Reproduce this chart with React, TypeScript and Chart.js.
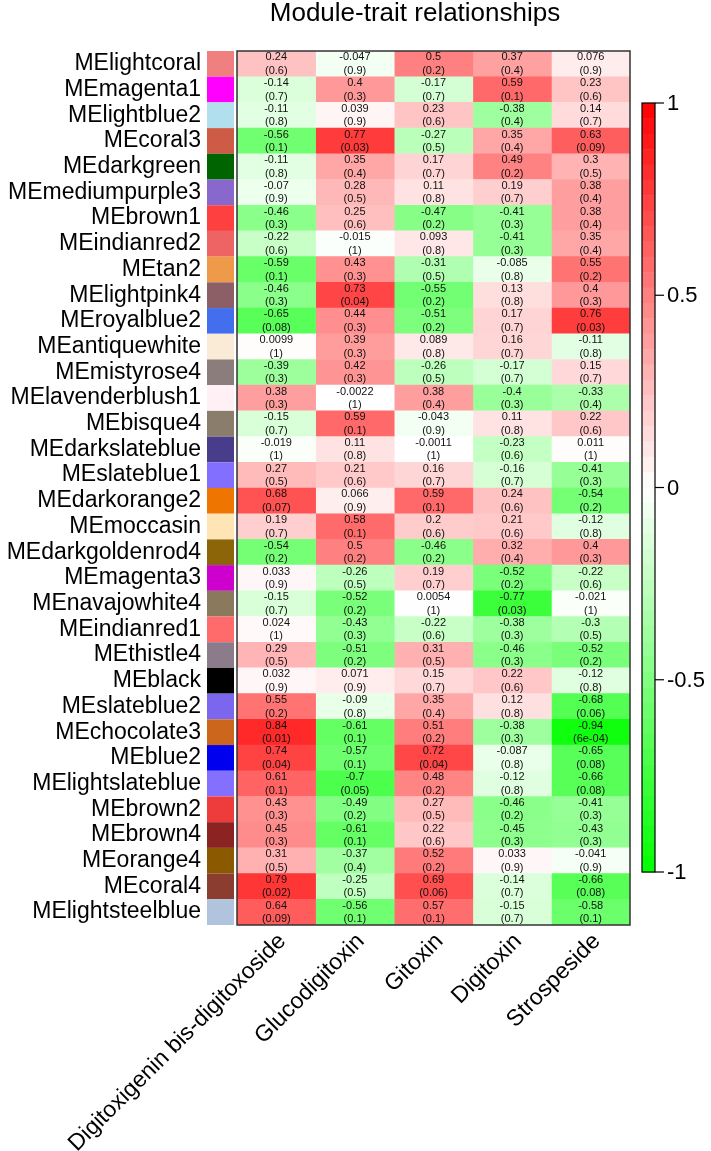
import React, { useEffect, useRef } from 'react';
import { Chart, registerables } from 'chart.js';

Chart.register(...registerables);

const title = 'Module-trait relationships';

const modules = [
  'MElightcoral', 'MEmagenta1', 'MElightblue2', 'MEcoral3', 'MEdarkgreen', 'MEmediumpurple3',
  'MEbrown1', 'MEindianred2', 'MEtan2', 'MElightpink4', 'MEroyalblue2', 'MEantiquewhite',
  'MEmistyrose4', 'MElavenderblush1', 'MEbisque4', 'MEdarkslateblue', 'MEslateblue1',
  'MEdarkorange2', 'MEmoccasin', 'MEdarkgoldenrod4', 'MEmagenta3', 'MEnavajowhite4',
  'MEindianred1', 'MEthistle4', 'MEblack', 'MEslateblue2', 'MEchocolate3', 'MEblue2',
  'MElightslateblue', 'MEbrown2', 'MEbrown4', 'MEorange4', 'MEcoral4', 'MElightsteelblue',
];

const moduleColors = [
  '#F08080', '#FF00FF', '#B2DFEE', '#CD5B45', '#006400', '#8968CD',
  '#FF4040', '#EE6363', '#EE9A49', '#8B5F65', '#436EEE', '#FAEBD7',
  '#8B7D7B', '#FFF0F5', '#8B7D6B', '#483D8B', '#836FFF',
  '#EE7600', '#FFE4B5', '#8B6508', '#CD00CD', '#8B795E',
  '#FF6A6A', '#8B7B8B', '#000000', '#7A67EE', '#CD661D', '#0000EE',
  '#8470FF', '#EE3B3B', '#8B2323', '#8B5A00', '#8B3E2F', '#B0C4DE',
];

const traits = ['Digitoxigenin bis-digitoxoside', 'Glucodigitoxin', 'Gitoxin', 'Digitoxin', 'Strospeside'];

const corDigitoxigenin = [0.24, -0.14, -0.11, -0.56, -0.11, -0.07, -0.46, -0.22, -0.59, -0.46, -0.65, 0.0099, -0.39, 0.38, -0.15, -0.019, 0.27, 0.68, 0.19, -0.54, 0.033, -0.15, 0.024, 0.29, 0.032, 0.55, 0.84, 0.74, 0.61, 0.43, 0.45, 0.31, 0.79, 0.64];
const pDigitoxigenin = [0.6, 0.7, 0.8, 0.1, 0.8, 0.9, 0.3, 0.6, 0.1, 0.3, 0.08, 1, 0.3, 0.3, 0.7, 1, 0.5, 0.07, 0.7, 0.2, 0.9, 0.7, 1, 0.5, 0.9, 0.2, 0.01, 0.04, 0.1, 0.3, 0.3, 0.5, 0.02, 0.09];

const corGlucodigitoxin = [-0.047, 0.4, 0.039, 0.77, 0.35, 0.28, 0.25, -0.015, 0.43, 0.73, 0.44, 0.39, 0.42, -0.0022, 0.59, 0.11, 0.21, 0.066, 0.58, 0.5, -0.26, -0.52, -0.43, -0.51, 0.071, -0.09, -0.61, -0.57, -0.7, -0.49, -0.61, -0.37, -0.25, -0.56];
const pGlucodigitoxin = [0.9, 0.3, 0.9, 0.03, 0.4, 0.5, 0.6, 1, 0.3, 0.04, 0.3, 0.3, 0.3, 1, 0.1, 0.8, 0.6, 0.9, 0.1, 0.2, 0.5, 0.2, 0.3, 0.2, 0.9, 0.8, 0.1, 0.1, 0.05, 0.2, 0.1, 0.4, 0.5, 0.1];

const corGitoxin = [0.5, -0.17, 0.23, -0.27, 0.17, 0.11, -0.47, 0.093, -0.31, -0.55, -0.51, 0.089, -0.26, 0.38, -0.043, -0.0011, 0.16, 0.59, 0.2, -0.46, 0.19, 0.0054, -0.22, 0.31, 0.15, 0.35, 0.51, 0.72, 0.48, 0.27, 0.22, 0.52, 0.69, 0.57];
const pGitoxin = [0.2, 0.7, 0.6, 0.5, 0.7, 0.8, 0.2, 0.8, 0.5, 0.2, 0.2, 0.8, 0.5, 0.4, 0.9, 1, 0.7, 0.1, 0.6, 0.2, 0.7, 1, 0.6, 0.5, 0.7, 0.4, 0.2, 0.04, 0.2, 0.5, 0.6, 0.2, 0.06, 0.1];

const corDigitoxin = [0.37, 0.59, -0.38, 0.35, 0.49, 0.19, -0.41, -0.41, -0.085, 0.13, 0.17, 0.16, -0.17, -0.4, 0.11, -0.23, -0.16, 0.24, 0.21, 0.32, -0.52, -0.77, -0.38, -0.46, 0.22, 0.12, -0.38, -0.087, -0.12, -0.46, -0.45, 0.033, -0.14, -0.15];
const pDigitoxin = [0.4, 0.1, 0.4, 0.4, 0.2, 0.7, 0.3, 0.3, 0.8, 0.8, 0.7, 0.7, 0.7, 0.3, 0.8, 0.6, 0.7, 0.6, 0.6, 0.4, 0.2, 0.03, 0.3, 0.3, 0.6, 0.8, 0.3, 0.8, 0.8, 0.2, 0.3, 0.9, 0.7, 0.7];

const corStrospeside = [0.076, 0.23, 0.14, 0.63, 0.3, 0.38, 0.38, 0.35, 0.55, 0.4, 0.76, -0.11, 0.15, -0.33, 0.22, 0.011, -0.41, -0.54, -0.12, 0.4, -0.22, -0.021, -0.3, -0.52, -0.12, -0.68, -0.94, -0.65, -0.66, -0.41, -0.43, -0.041, -0.66, -0.58];
const pStrospeside = [0.9, 0.6, 0.7, 0.09, 0.5, 0.4, 0.4, 0.4, 0.2, 0.3, 0.03, 0.8, 0.7, 0.4, 0.6, 1, 0.3, 0.2, 0.8, 0.3, 0.6, 1, 0.5, 0.2, 0.8, 0.06, 0.0006, 0.08, 0.08, 0.3, 0.3, 0.9, 0.08, 0.1];

const colorbarTicks = [1, 0.5, 0, -0.5, -1];

const corByTrait = [corDigitoxigenin, corGlucodigitoxin, corGitoxin, corDigitoxin, corStrospeside];
const pByTrait = [pDigitoxigenin, pGlucodigitoxin, pGitoxin, pDigitoxin, pStrospeside];

const FONT = "'Liberation Sans', Arial, Helvetica, sans-serif";

function corColor(v: number): string {
  const t = Math.max(-1, Math.min(1, v));
  if (t >= 0) {
    const c = Math.round(255 * (1 - t));
    return `rgb(255,${c},${c})`;
  }
  const c = Math.round(255 * (1 + t));
  return `rgb(${c},255,${c})`;
}

function fmtP(p: number): string {
  if (p >= 0.001) return String(p);
  return p.toExponential(0).replace(/e-(\d)$/, 'e-0$1');
}

const decorPlugin = {
  id: 'decor',
  beforeDraw(chart: any) {
    const ctx = chart.ctx;
    ctx.save();
    ctx.fillStyle = '#ffffff';
    ctx.fillRect(0, 0, chart.width, chart.height);
    ctx.restore();
  },
  afterDatasetsDraw(chart: any) {
    const ctx = chart.ctx;
    const area = chart.chartArea;
    const yScale = chart.scales.y;
    const rowH = (area.bottom - area.top) / modules.length;
    ctx.save();

    // module colour swatches
    modules.forEach((m, i) => {
      const yc = yScale.getPixelForValue(i);
      ctx.fillStyle = moduleColors[i];
      ctx.fillRect(area.left - 30, yc - rowH / 2, 27, rowH);
    });

    // cell texts
    ctx.fillStyle = '#111';
    ctx.font = `11px ${FONT}`;
    ctx.textAlign = 'center';
    ctx.textBaseline = 'middle';
    traits.forEach((t, j) => {
      const meta = chart.getDatasetMeta(j);
      meta.data.forEach((el: any, i: number) => {
        const xc = (el.x + el.base) / 2;
        const yc = el.y;
        ctx.fillText(String(corByTrait[j][i]), xc, yc - 6.5);
        ctx.fillText(`(${fmtP(pByTrait[j][i])})`, xc, yc + 7);
      });
    });

    // heatmap border
    ctx.strokeStyle = '#333';
    ctx.lineWidth = 1.5;
    ctx.strokeRect(area.left, area.top, area.right - area.left, area.bottom - area.top);

    // colour bar
    const cbL = 642, cbR = 655, cbT = 103, cbB = 872;
    const steps = 50;
    const stepH = (cbB - cbT) / steps;
    for (let k = 0; k < steps; k++) {
      const v = 1 - (k + 0.5) * (2 / steps);
      ctx.fillStyle = corColor(v);
      ctx.fillRect(cbL, cbT + k * stepH, cbR - cbL, stepH + 0.5);
    }
    ctx.strokeStyle = '#000';
    ctx.lineWidth = 1.2;
    ctx.strokeRect(cbL, cbT, cbR - cbL, cbB - cbT);
    ctx.fillStyle = '#000';
    ctx.font = `22px ${FONT}`;
    ctx.textAlign = 'left';
    ctx.textBaseline = 'middle';
    colorbarTicks.forEach((v) => {
      const y = cbT + ((1 - v) / 2) * (cbB - cbT);
      ctx.beginPath();
      ctx.moveTo(cbR, y);
      ctx.lineTo(cbR + 9, y);
      ctx.stroke();
      ctx.fillText(String(v), 667, y + 1);
    });

    // title
    ctx.font = `26px ${FONT}`;
    ctx.textAlign = 'center';
    ctx.textBaseline = 'middle';
    ctx.fillText(title, 415, 14);
    ctx.restore();
  },
};

export default function App() {
  const ref = useRef<HTMLCanvasElement | null>(null);
  useEffect(() => {
    if (!ref.current) return;
    const chart = new Chart(ref.current, {
      type: 'bar',
      data: {
        labels: modules,
        datasets: traits.map((t, j) => ({
          label: t,
          data: modules.map(() => 1),
          backgroundColor: corByTrait[j].map(corColor),
          borderWidth: 0,
          barPercentage: 1,
          categoryPercentage: 1,
        })),
      },
      options: {
        indexAxis: 'y',
        responsive: false,
        animation: false,
        devicePixelRatio: 1,
        layout: { padding: { top: 51, right: 81, bottom: 0, left: 0 } },
        plugins: {
          legend: { display: false },
          tooltip: { enabled: false },
          title: { display: false },
        },
        scales: {
          x: {
            type: 'linear',
            stacked: true,
            min: 0,
            max: traits.length,
            position: 'bottom',
            grid: { display: false, drawTicks: false },
            border: { display: false },
            afterBuildTicks: (s: any) => {
              s.ticks = traits.map((_, i) => ({ value: i + 0.5 }));
            },
            afterFit: (s: any) => {
              s.height = 1151 - 925;
            },
            ticks: {
              autoSkip: false,
              minRotation: 45,
              maxRotation: 45,
              padding: 3,
              labelOffset: 6,
              color: '#000',
              font: { family: FONT, size: 23 },
              callback: (_v: any, i: number) => traits[i],
            },
          },
          y: {
            type: 'category',
            stacked: true,
            grid: { display: false, drawTicks: false },
            border: { display: false },
            afterFit: (s: any) => {
              s.width = 237;
            },
            ticks: {
              autoSkip: false,
              padding: 36,
              color: '#000',
              font: { family: FONT, size: 23 },
            },
          },
        },
      } as any,
      plugins: [decorPlugin],
    });
    return () => chart.destroy();
  }, []);
  return (
    <div style={{ position: 'absolute', left: 0, top: 0, width: 711, height: 1151, background: '#fff' }}>
      <canvas ref={ref} width={711} height={1151} style={{ display: 'block' }} />
    </div>
  );
}
